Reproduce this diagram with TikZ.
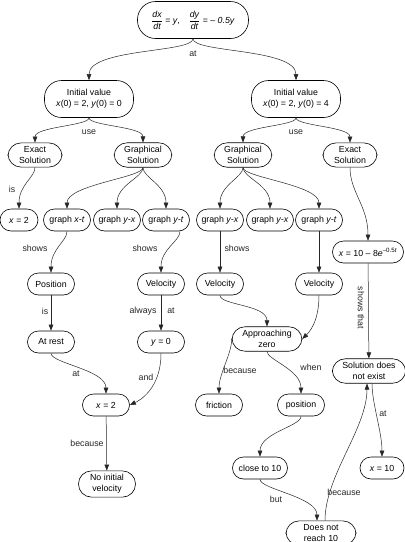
\documentclass[tikz,border=0pt]{standalone}
\usepackage{amsmath}
\usepackage{fontspec}
\setmainfont{Liberation Sans}
\usepackage{tikz}
\usetikzlibrary{arrows.meta, positioning}

\begin{document}
\begin{tikzpicture}[x=1pt, y=-1pt,
  font=\fontsize{8.8}{11}\selectfont,
  cbox/.style={draw, line width=0.6pt, rounded corners=11pt,
    minimum height=22pt, minimum width=47pt, inner xsep=5pt, inner ysep=2pt,
    align=center},
  cbox2/.style={cbox, rounded corners=13pt, inner xsep=10pt, inner ysep=3.5pt},
  gbox/.style={cbox, inner xsep=4pt},
  arr/.style={-{Triangle[length=6pt, width=4.5pt]}, line width=0.5pt, black!85},
  dn/.style 2 args={out=-90, in=90, out distance=#1, in distance=#2},
  lbl/.style={inner sep=1pt}
]
\useasboundingbox (0,0) rectangle (405,542);

% concepts
\node[cbox, minimum width=111pt, minimum height=37pt, rounded corners=18pt] (eq) at (193,20)
  {$\dfrac{\textit{dx}}{\textit{dt}}$ = \textit{y},\quad $\dfrac{\textit{dy}}{\textit{dt}}$ = \textit{– 0.5y}};
\node[cbox2, minimum width=89pt, minimum height=37pt, rounded corners=17pt] (ivl) at (89,99)
  {Initial value\\\textit{x}(0) = 2, \textit{y}(0) = 0};
\node[cbox2, minimum width=89pt, minimum height=37pt, rounded corners=17pt] (ivr) at (296,99)
  {Initial value\\\textit{x}(0) = 2, \textit{y}(0) = 4};

\node[cbox2, minimum width=54pt] (exl) at (35,155) {Exact\\Solution};
\node[cbox2] (gsl) at (143,155) {Graphical\\Solution};
\node[cbox2] (gsr) at (243,155) {Graphical\\Solution};
\node[cbox2, minimum width=54pt] (exr) at (350,155) {Exact\\Solution};

\node[cbox, minimum width=38pt] (x2a) at (19,220) {\textit{x} = 2};
\node[gbox] (gxt)   at (67,220)  {graph \textit{x-t}};
\node[gbox] (gyxl)  at (117,220) {graph \textit{y-x}};
\node[gbox] (gytl)  at (166,220) {graph \textit{y-t}};
\node[gbox] (gyxr1) at (220,220) {graph \textit{y-x}};
\node[gbox] (gyxr2) at (270,220) {graph \textit{y-x}};
\node[gbox] (gytr)  at (319,220) {graph \textit{y-t}};
\node[cbox, minimum width=71pt] (xsol) at (368,252)
  {\textit{x} = 10 – 8\textit{e}\textsuperscript{–0.5\textit{t}}};

\node[cbox] (pos)   at (51,284)  {Position};
\node[cbox] (vell)  at (161,284) {Velocity};
\node[cbox] (velr1) at (220,284) {Velocity};
\node[cbox] (velr2) at (319,284) {Velocity};

\node[cbox] (rest) at (51,342)  {At rest};
\node[cbox] (y0)   at (161,342) {\textit{y} = 0};
\node[cbox2, minimum width=70pt] (apz) at (267,339) {Approaching\\zero};
\node[cbox2, minimum width=72pt] (sol) at (369,371) {Solution does\\not exist};

\node[cbox] (x2b)  at (106,405) {\textit{x} = 2};
\node[cbox] (fric) at (219,405) {friction};
\node[cbox] (posn) at (301,405) {position};

\node[cbox2, minimum width=57pt] (noinit) at (107,484) {No initial\\velocity};
\node[cbox, minimum width=55pt] (close) at (260,468) {close to 10};
\node[cbox, minimum width=44pt] (x10) at (382,468) {\textit{x} = 10};
\node[cbox2, minimum width=70pt] (dnr) at (321,533) {Does not\\reach 10};

% links
\draw[arr] (eq) to[dn={14pt}{32pt}] (ivl) node[lbl] at (193,54) {at};
\draw[arr] (eq) to[dn={14pt}{32pt}] (ivr);
\draw[arr] (ivl) to[dn={8pt}{16pt}] (exl) node[lbl] at (89,132) {use};
\draw[arr] (ivl) to[dn={8pt}{16pt}] (gsl);
\draw[arr] (ivr) to[dn={8pt}{16pt}] (gsr) node[lbl] at (296,132) {use};
\draw[arr] (ivr) to[dn={8pt}{16pt}] (exr);

\draw[arr] (exl) to[dn={10pt}{24pt}] (x2a) node[lbl] at (12,189) {is};
\draw[arr] (gsl) to[dn={10pt}{24pt}] (gxt);
\draw[arr] (gsl) to[dn={10pt}{24pt}] (gyxl);
\draw[arr] (gsl) to[dn={10pt}{24pt}] (gytl);
\draw[arr] (gsr) to[dn={10pt}{24pt}] (gyxr1);
\draw[arr] (gsr) to[dn={10pt}{24pt}] (gyxr2);
\draw[arr] (gsr) to[dn={10pt}{24pt}] (gytr);
\draw[arr] (exr) to[dn={25pt}{35pt}] (xsol);

\draw[arr] (gxt) to[dn={10pt}{24pt}] (pos) node[lbl] at (35,248) {shows};
\draw[arr] ([xshift=14pt]gytl.south) to[dn={10pt}{24pt}] (vell) node[lbl] at (145,248) {shows};
\draw[arr] (gyxr1) -- (velr1) node[lbl] at (237,248) {shows};
\draw[arr] (gytr) -- (velr2);
\draw[arr] (xsol) -- (sol) node[lbl, rotate=-90] at (361,308) {shows that};

\draw[arr] (pos) -- (rest) node[lbl] at (45,311) {is};
\draw[arr] (vell) -- (y0) node[lbl] at (143,311) {always} node[lbl] at (171,311) {at};
\draw[arr] (velr1) to[dn={10pt}{22pt}] (apz);
\draw[arr] (velr2) to[out=-90, in=45, out distance=28pt, in distance=8pt] (apz.east);

\draw[arr] (rest) to[dn={10pt}{24pt}] (x2b) node[lbl] at (76,374) {at};
\draw[arr] (y0) to[out=-90, in=25, out distance=36pt, in distance=10pt] (x2b.east)
  node[lbl] at (146,377) {and};
\draw[arr] (x2b) -- (noinit) node[lbl] at (87,443) {because};

\draw[arr] (apz.west) to[dn={15pt}{20pt}] (fric) node[lbl] at (240,370) {because};
\draw[arr] (apz) to[dn={8pt}{24pt}] (posn) node[lbl] at (311,367) {when};
\draw[arr] ([xshift=3pt]sol.south) to[dn={20pt}{25pt}] (x10) node[lbl] at (383,414) {at};

\draw[arr] (posn) to[dn={10pt}{24pt}] (close);
\draw[arr] (close) to[dn={10pt}{24pt}] ([xshift=-4pt]dnr.north) node[lbl] at (276,499) {but};
\draw[arr] ([xshift=4pt]dnr.north) to[out=90, in=-90, out distance=45pt, in distance=45pt]
  ([xshift=-2pt]sol.south) node[lbl] at (344,492) {because};
\end{tikzpicture}
\end{document}
